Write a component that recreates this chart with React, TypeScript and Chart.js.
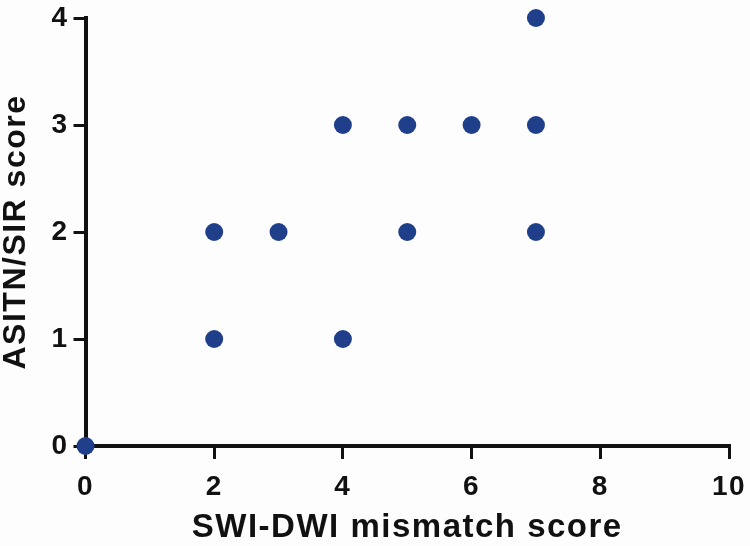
import React, { useEffect, useRef } from "react";
import { Chart, registerables } from "chart.js";

Chart.register(...registerables);

const mismatchScores = [0, 2, 2, 3, 4, 4, 5, 5, 6, 7, 7, 7];
const asitnScores = [0, 1, 2, 2, 1, 3, 2, 3, 3, 2, 3, 4];
const xTitle = "SWI-DWI mismatch score";
const yTitle = "ASITN/SIR score";

const FONT = "'Liberation Sans', Arial, sans-serif";

const bgPlugin = {
  id: "bgAndSpacing",
  beforeDraw(chart: any) {
    const ctx = chart.ctx;
    ctx.save();
    ctx.fillStyle = "#fdfdfd";
    ctx.fillRect(0, 0, chart.width, chart.height);
    ctx.restore();
    (ctx as any).letterSpacing = "1.5px";
  },
  afterDraw(chart: any) {
    (chart.ctx as any).letterSpacing = "0px";
  },
};

export default function App() {
  const ref = useRef<HTMLCanvasElement | null>(null);
  useEffect(() => {
    if (!ref.current) return;
    const points = mismatchScores.map((x, i) => ({ x, y: asitnScores[i] }));
    const chart = new Chart(ref.current, {
      type: "scatter",
      data: {
        datasets: [
          {
            data: points,
            backgroundColor: "#203f8b",
            borderColor: "#203f8b",
            borderWidth: 0,
            pointRadius: 9,
            pointHoverRadius: 9,
            clip: false as any,
          },
        ],
      },
      options: {
        animation: false,
        responsive: true,
        maintainAspectRatio: false,
        layout: { padding: { left: 0, right: 21, top: 18, bottom: 0 } },
        plugins: { legend: { display: false }, tooltip: { enabled: false } },
        scales: {
          x: {
            type: "linear",
            min: 0,
            max: 10,
            ticks: {
              stepSize: 2,
              color: "#111",
              padding: 11,
              font: { family: FONT, size: 28, weight: "bold" },
            },
            grid: {
              drawOnChartArea: false,
              drawTicks: true,
              tickLength: 13,
              color: "#111",
              lineWidth: 3,
            },
            border: { display: true, color: "#111", width: 4 },
            title: {
              display: true,
              text: xTitle,
              color: "#111",
              padding: { top: 0, bottom: -2 },
              font: { family: FONT, size: 33, weight: "bold" },
            },
            afterFit(scale: any) {
              scale.height = 100;
              scale.paddingLeft = 0;
              scale.paddingRight = 0;
            },
          },
          y: {
            type: "linear",
            min: 0,
            max: 4,
            ticks: {
              stepSize: 1,
              color: "#111",
              padding: 5,
              font: { family: FONT, size: 28, weight: "bold" },
            },
            grid: {
              drawOnChartArea: false,
              drawTicks: true,
              tickLength: 12,
              color: "#111",
              lineWidth: 3,
            },
            border: { display: true, color: "#111", width: 4 },
            title: {
              display: true,
              text: yTitle,
              color: "#111",
              padding: { top: -3, bottom: 0 },
              font: { family: FONT, size: 32, weight: "bold" },
            },
            afterFit(scale: any) {
              scale.width = 85.5;
              scale.paddingTop = 0;
              scale.paddingBottom = 0;
            },
          },
        },
      },
      plugins: [bgPlugin],
    });
    return () => chart.destroy();
  }, []);
  return (
    <div
      style={{
        position: "fixed",
        left: 0,
        top: 0,
        width: "750px",
        height: "546px",
        background: "#fdfdfd",
      }}
    >
      <canvas ref={ref} />
    </div>
  );
}
